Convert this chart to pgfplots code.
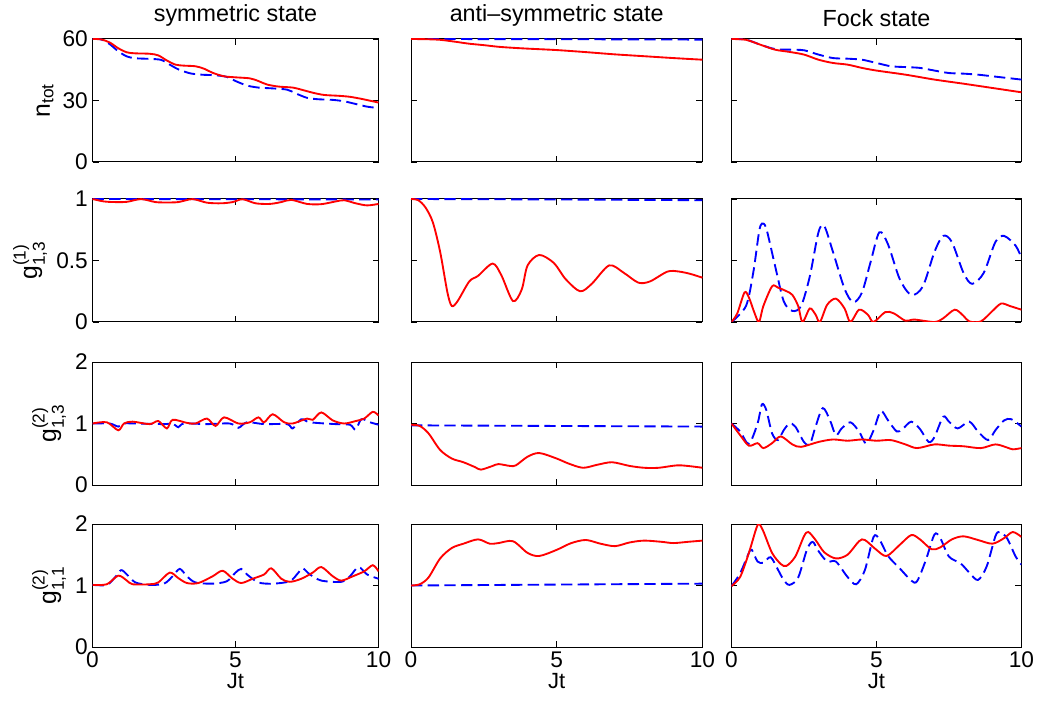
\documentclass[border=0pt]{standalone}
\usepackage{amsmath}
\usepackage{fontspec}
\setmainfont{Liberation Sans}
\usepackage{pgfplots}
\pgfplotsset{compat=1.18}
\newcommand{\fs}{\fontsize{17}{19}\selectfont}
\pgfplotsset{
  panel/.style={scale only axis, height=92.25pt, xmin=0, xmax=10, xtick={0,5,10},
    tick align=inside, major tick length=4.5pt,
    axis line style={line width=0.75pt},
    every tick/.style={black, line width=0.6pt},
    ticklabel style={font=\fs},
    /pgf/number format/assume math mode=true,
    xlabel style={font=\fontsize{16.5}{18}\selectfont, yshift=3pt},
    ylabel style={font=\fontsize{18.5}{20}\selectfont},
    title style={font=\fontsize{17.5}{20}\selectfont},
    anchor=south west, xticklabels={}, yticklabels={}},
  cA/.style={xshift=69.4pt, width=214.5pt},
  cB/.style={xshift=308.25pt, width=218.6pt},
  cC/.style={xshift=548.6pt, width=217.5pt},
  rA/.style={yshift=406.5pt, ymin=0, ymax=60, ytick={0,30,60}},
  rB/.style={yshift=286.5pt, ymin=0, ymax=1, ytick={0,0.5,1}},
  rC/.style={yshift=164.25pt, ymin=0, ymax=2, ytick={0,1,2}},
  rD/.style={yshift=42.75pt, ymin=0, ymax=2, ytick={0,1,2}, xticklabels={0,5,10}, xlabel={Jt}},
  rl/.style={red, solid, line width=1.4pt, smooth},
  bl/.style={blue, line width=1.4pt, dash pattern=on 8.5pt off 4pt, smooth},
}
\begin{document}
\begin{tikzpicture}
\useasboundingbox (0,0) rectangle (781.5pt,528pt);
% ---------------- Row 1: n_tot
\begin{axis}[panel, cA, rA, yticklabels={0,30,60}, ylabel={n$_{\text{tot}}$}, title={symmetric state}, clip=false]
\addplot[bl] coordinates {(0,60) (0.3,59.8) (0.6,57.5) (0.9,54) (1.2,51.5) (1.5,50.6) (2.0,50.3) (2.4,49.8) (2.7,47.5) (3.0,45.2) (3.4,43.3) (3.8,42.6) (4.3,42.3) (4.7,41.5) (5.0,39.5) (5.4,37.3) (5.8,36.3) (6.3,35.9) (6.8,35.3) (7.1,33.5) (7.5,31.3) (7.9,30.6) (8.4,30.3) (8.8,29.6) (9.2,28.3) (9.6,27) (10,26.3)};
\addplot[rl] coordinates {(0,60) (0.3,59.8) (0.6,58.3) (0.9,55.5) (1.2,53.5) (1.5,53) (2.0,52.8) (2.3,52) (2.6,49.5) (2.9,47.5) (3.2,47) (3.6,46.7) (3.9,45.5) (4.2,43.5) (4.6,41.8) (5.0,41.3) (5.5,40.8) (5.8,39.5) (6.1,37.8) (6.5,36.8) (7.0,36.3) (7.3,35.3) (7.7,33.8) (8.1,32.7) (8.6,32.3) (9.0,31.8) (9.4,30.8) (9.8,29.6) (10,29)};
\end{axis}
\begin{axis}[panel, cB, rA, title={anti\textendash symmetric state}, clip=false]
\addplot[bl] coordinates {(0,60) (5,59.9) (10,59.7)};
\addplot[rl] coordinates {(0,60) (0.5,59.9) (1.0,59.6) (1.5,58.7) (2.0,57.7) (2.5,57) (3.0,56.2) (3.5,55.7) (4,55.3) (5,54.6) (6,53.6) (7,52.5) (8,51.6) (9,50.7) (10,49.9)};
\end{axis}
\begin{axis}[panel, cC, rA, title={Fock state}, clip=false]
\addplot[bl] coordinates {(0,60) (0.5,59.7) (1,57.2) (1.5,55.1) (2,54.8) (2.5,54.5) (3,52.4) (3.5,50.7) (4,50.4) (4.5,49.9) (5,48.3) (5.5,46.7) (6,46.3) (6.5,45.9) (7,44.6) (7.5,43.4) (8,43.1) (8.5,42.6) (9,41.8) (9.5,41) (10,40.2)};
\addplot[rl] coordinates {(0,60) (0.5,59.6) (1,57.2) (1.5,54.8) (2,53.7) (2.5,52.4) (3,49.9) (3.5,48.3) (4,47.5) (4.5,45.9) (5,44.6) (6,42.6) (7,40.2) (8,38.2) (9,36.1) (10,34)};
\end{axis}
% ---------------- Row 2: g1
\begin{axis}[panel, cA, rB, yticklabels={0,0.5,1}, ylabel={g$^{\text{(1)}}_{\text{1,3}}$}, clip=false]
\addplot[bl] coordinates {(0,1) (5,0.998) (10,0.996)};
\addplot[rl] coordinates {(0,1.0) (0.4,0.98) (0.8,0.975) (1.2,0.977) (1.7,0.999) (2.2,0.975) (2.6,0.972) (3.0,0.975) (3.5,0.999) (4.0,0.97) (4.5,0.965) (4.9,0.975) (5.25,0.998) (5.7,0.965) (6.2,0.96) (6.6,0.975) (6.95,0.993) (7.5,0.96) (8.0,0.958) (8.5,0.98) (8.8,0.99) (9.2,0.965) (9.6,0.948) (10,0.96)};
\end{axis}
\begin{axis}[panel, cB, rB, clip=false]
\addplot[bl] coordinates {(0,1) (5,0.996) (10,0.99)};
\addplot[rl] coordinates {(0,1) (0.25,0.99) (0.5,0.93) (0.75,0.81) (1.0,0.57) (1.25,0.24) (1.4,0.13) (1.6,0.17) (2,0.33) (2.3,0.375) (2.8,0.475) (3.1,0.38) (3.5,0.17) (3.8,0.265) (4.0,0.46) (4.4,0.545) (4.9,0.48) (5.3,0.35) (5.8,0.25) (6.2,0.31) (6.8,0.46) (7.3,0.40) (7.8,0.32) (8.2,0.33) (8.8,0.41) (9.2,0.41) (9.6,0.39) (10,0.36)};
\end{axis}
\begin{axis}[panel, cC, rB]
\addplot[bl] coordinates {(0,0) (0.5,0.13) (0.75,0.40) (0.95,0.73) (1.05,0.80) (1.2,0.76) (1.5,0.46) (1.8,0.17) (2.1,0.09) (2.4,0.13) (2.7,0.37) (3.0,0.73) (3.2,0.78) (3.5,0.57) (3.9,0.27) (4.2,0.16) (4.5,0.24) (4.8,0.49) (5.1,0.73) (5.4,0.63) (5.8,0.35) (6.2,0.22) (6.6,0.29) (7.0,0.57) (7.3,0.70) (7.6,0.65) (8.0,0.40) (8.3,0.31) (8.7,0.40) (9.1,0.65) (9.4,0.70) (9.8,0.62) (10,0.52)};
\addplot[rl] coordinates {(0,0) (0.2,0.07) (0.45,0.24) (0.6,0.2) (0.8,0.07) (0.95,0) (1.1,0.13) (1.4,0.29) (1.6,0.28) (1.9,0.25) (2.1,0.22) (2.3,0.13) (2.45,0) (2.7,0.11) (2.9,0.06) (3.05,0) (3.3,0.14) (3.6,0.19) (3.9,0.11) (4.1,0) (4.4,0.1) (4.7,0.06) (4.9,0) (5.3,0.08) (5.6,0.07) (6.0,0.01) (6.3,0.02) (7.0,0) (7.3,0.03) (7.7,0.1) (8.0,0.05) (8.2,0.005) (8.6,0.005) (9.0,0.09) (9.3,0.15) (9.6,0.13) (10,0.1)};
\end{axis}
% ---------------- Row 3: g2_13
\begin{axis}[panel, cA, rC, yticklabels={0,1,2}, ylabel={g$^{\text{(2)}}_{\text{1,3}}$}]
\addplot[bl] coordinates {(0,1) (0.6,1.0) (0.9,0.95) (1.1,1.0) (1.5,1.0) (2.5,0.99) (2.8,1.0) (3.0,0.94) (3.2,1.0) (4,0.99) (4.8,1.0) (5.1,0.93) (5.4,1.02) (6,0.99) (6.8,0.99) (7.0,0.92) (7.3,1.07) (7.6,1.02) (8.5,0.99) (9.0,0.98) (9.2,0.9) (9.4,1.07) (9.7,1.02) (10,0.98)};
\addplot[rl] coordinates {(0,1.0) (0.5,1.02) (0.9,0.89) (1.1,1.0) (1.4,1.03) (2,0.99) (2.3,1.04) (2.6,0.92) (2.8,1.06) (3.3,1.01) (3.6,1.0) (4.0,1.08) (4.3,0.96) (4.6,1.1) (5.1,1.0) (5.5,1.02) (5.8,1.1) (6.0,1.02) (6.3,1.15) (6.7,1.02) (7.0,1.0) (7.5,1.08) (7.7,1.06) (8.0,1.18) (8.4,1.05) (8.8,1.0) (9.2,1.04) (9.5,1.08) (9.8,1.19) (10,1.13)};
\end{axis}
\begin{axis}[panel, cB, rC]
\addplot[bl] coordinates {(0,0.97) (5,0.96) (10,0.95)};
\addplot[rl] coordinates {(0,0.98) (0.3,0.96) (0.6,0.84) (1.0,0.57) (1.4,0.43) (1.8,0.37) (2.2,0.29) (2.4,0.25) (2.8,0.31) (3.0,0.34) (3.4,0.31) (3.6,0.32) (4.0,0.46) (4.4,0.52) (5.0,0.43) (5.4,0.35) (5.9,0.28) (6.4,0.33) (6.9,0.37) (7.5,0.31) (8.0,0.28) (8.5,0.28) (9.2,0.32) (10,0.28)};
\end{axis}
\begin{axis}[panel, cC, rC]
\addplot[bl] coordinates {(0,1.0) (0.3,0.87) (0.6,0.67) (0.9,1.0) (1.05,1.31) (1.2,1.22) (1.4,0.84) (1.6,0.73) (1.8,0.89) (2.0,1.0) (2.2,0.95) (2.5,0.70) (2.7,0.66) (2.9,0.95) (3.15,1.25) (3.4,1.05) (3.6,0.81) (3.8,0.92) (4.1,1.02) (4.4,0.87) (4.65,0.67) (4.9,0.89) (5.15,1.20) (5.4,1.05) (5.7,0.87) (5.9,0.91) (6.2,1.03) (6.5,0.91) (6.8,0.70) (7.0,0.78) (7.3,1.11) (7.5,1.03) (7.8,0.92) (8.2,1.03) (8.5,0.87) (8.85,0.73) (9.1,0.89) (9.4,1.05) (9.65,1.07) (10,0.95)};
\addplot[rl] coordinates {(0,1.0) (0.3,0.81) (0.6,0.64) (0.9,0.68) (1.1,0.60) (1.4,0.68) (1.7,0.79) (2.1,0.66) (2.4,0.62) (3.0,0.70) (3.5,0.74) (4.0,0.72) (4.5,0.74) (5.0,0.72) (5.5,0.73) (6.0,0.66) (6.4,0.60) (7.0,0.66) (7.5,0.64) (8.0,0.63) (8.6,0.60) (9.1,0.66) (9.5,0.61) (9.7,0.58) (10,0.60)};
\end{axis}
% ---------------- Row 4: g2_11
\begin{axis}[panel, cA, rD, yticklabels={0,1,2}, ylabel={g$^{\text{(2)}}_{\text{1,1}}$}]
\addplot[bl] coordinates {(0,1.01) (0.5,1.01) (0.8,1.14) (1.0,1.25) (1.2,1.18) (1.5,1.05) (2.0,1.01) (2.5,1.03) (2.8,1.15) (3.05,1.27) (3.3,1.15) (3.6,1.05) (4.2,1.03) (4.7,1.07) (5.0,1.21) (5.2,1.27) (5.4,1.18) (5.8,1.05) (6.3,1.03) (6.9,1.07) (7.2,1.21) (7.35,1.28) (7.6,1.18) (8.0,1.08) (8.7,1.06) (9.0,1.15) (9.3,1.30) (9.6,1.18) (10,1.11)};
\addplot[rl] coordinates {(0,1.01) (0.5,1.02) (0.9,1.16) (1.2,1.08) (1.4,1.02) (2.0,1.02) (2.3,1.05) (2.7,1.21) (3.0,1.12) (3.3,1.04) (3.7,1.04) (4.2,1.15) (4.55,1.24) (4.9,1.11) (5.2,1.04) (5.6,1.11) (6.0,1.18) (6.25,1.28) (6.6,1.11) (6.9,1.06) (7.3,1.11) (7.7,1.21) (8.0,1.30) (8.4,1.15) (8.7,1.08) (9.1,1.15) (9.5,1.23) (9.8,1.33) (10,1.23)};
\end{axis}
\begin{axis}[panel, cB, rD]
\addplot[bl] coordinates {(0,1.0) (5,1.015) (10,1.03)};
\addplot[rl] coordinates {(0,1.0) (0.3,1.02) (0.6,1.13) (1.0,1.44) (1.4,1.61) (1.8,1.68) (2.3,1.75) (2.7,1.68) (3.0,1.69) (3.5,1.72) (4.0,1.53) (4.4,1.48) (5.0,1.58) (5.5,1.69) (6.0,1.74) (6.5,1.68) (7.0,1.64) (7.5,1.70) (8.0,1.73) (8.6,1.71) (9.0,1.69) (9.5,1.71) (10,1.73)};
\end{axis}
\begin{axis}[panel, cC, rD]
\addplot[bl] coordinates {(0,0.99) (0.3,1.20) (0.6,1.53) (0.7,1.58) (0.9,1.39) (1.1,1.37) (1.35,1.46) (1.6,1.26) (1.8,1.09) (2.0,1.01) (2.3,1.13) (2.6,1.58) (2.8,1.71) (3.0,1.56) (3.3,1.39) (3.6,1.39) (4.0,1.14) (4.3,1.02) (4.6,1.25) (4.9,1.79) (5.1,1.75) (5.4,1.48) (5.8,1.28) (6.2,1.08) (6.4,1.07) (6.7,1.41) (7.0,1.83) (7.2,1.77) (7.5,1.47) (7.9,1.36) (8.2,1.21) (8.5,1.09) (8.8,1.31) (9.1,1.80) (9.25,1.87) (9.5,1.77) (9.8,1.47) (10,1.34)};
\addplot[rl] coordinates {(0,0.99) (0.3,1.14) (0.6,1.53) (0.85,1.92) (0.95,2.0) (1.1,1.88) (1.4,1.53) (1.7,1.35) (1.9,1.32) (2.2,1.47) (2.5,1.80) (2.65,1.87) (2.9,1.74) (3.2,1.54) (3.6,1.44) (4.0,1.50) (4.4,1.72) (4.6,1.74) (5.0,1.58) (5.35,1.48) (5.8,1.66) (6.2,1.82) (6.5,1.75) (6.9,1.59) (7.2,1.62) (7.6,1.75) (8.0,1.80) (8.5,1.74) (9.0,1.68) (9.4,1.77) (9.7,1.87) (10,1.79)};
\end{axis}
\end{tikzpicture}
\end{document}
